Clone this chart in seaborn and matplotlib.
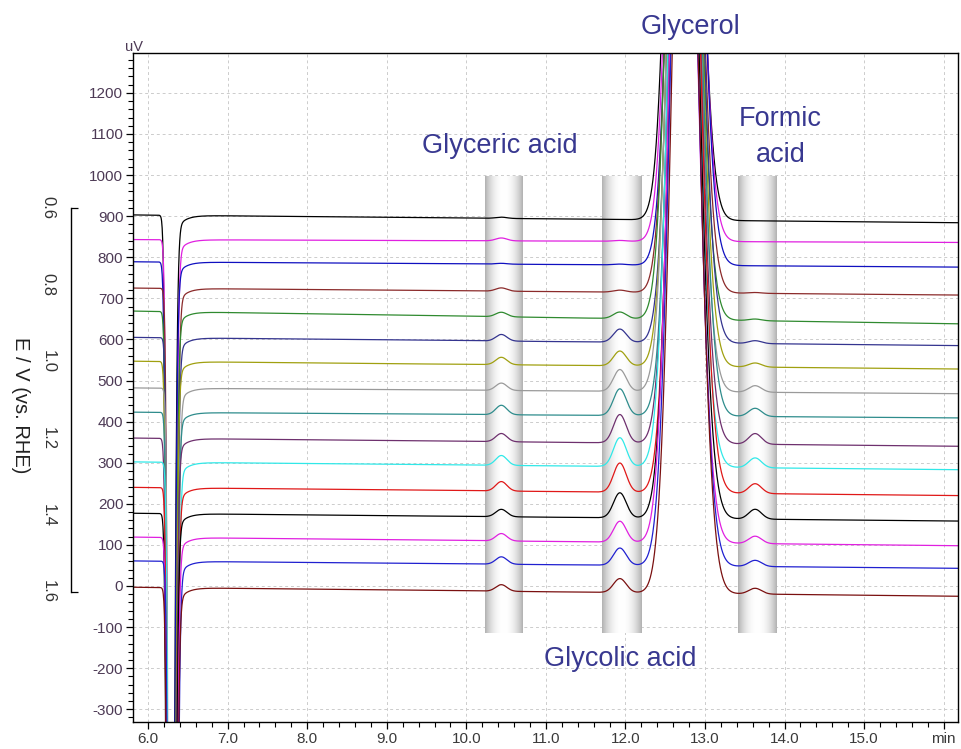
import numpy as np
import pandas as pd
import matplotlib
matplotlib.use("Agg")
import matplotlib.pyplot as plt
import seaborn as sns
from matplotlib.ticker import MultipleLocator, FixedLocator, FixedFormatter

# ---------------- data ----------------
traces = [f"trace {i + 1}" for i in range(16)]
colors = ["#000000", "#e020e0", "#1010c0", "#8b2a2a", "#2f8a2f", "#34348f",
          "#a0a010", "#9a9a9a", "#2e8c8c", "#6e306e", "#30e8e8", "#e01818",
          "#000000", "#e020e0", "#2020d0", "#7a1010"]
baseline_start = [903, 843, 789, 725, 669, 605, 547, 482, 423, 360, 302, 240, 177, 119, 61, -3]
baseline_end = [884, 836, 776, 708, 638, 585, 528, 468, 409, 340, 283, 220, 158, 98, 43, -25]
glyceric_height = [3, 7, 2, 8, 11, 16, 18, 18, 23, 20, 24, 23, 18, 18, 18, 16]
glycolic_height = [0, 2, 2, 5, 16, 32, 36, 53, 65, 69, 70, 71, 61, 51, 42, 34]
formic_height = [0, 0, 0, 2, 4, 7, 10, 16, 20, 26, 24, 24, 24, 18, 15, 14]
dip_rt = [6.27, 6.28, 6.27, 6.29, 6.28, 6.29, 6.28, 6.30, 6.29, 6.28, 6.30, 6.29, 6.28, 6.29, 6.30, 6.29]
glycerol_rt = [12.72, 12.73, 12.74, 12.73, 12.72, 12.74, 12.73, 12.72, 12.74, 12.73, 12.72, 12.74, 12.73, 12.72, 12.73, 12.74]

# peak shape parameters (min)
glyceric_rt, glycolic_rt, formic_rt = 10.44, 11.93, 13.63
glyceric_sigma, glycolic_sigma, formic_sigma = 0.07, 0.08, 0.08
glycerol_height, glycerol_sl, glycerol_sr = 2200, 0.15, 0.17
dip_depth, dip_sl, dip_sr, dip_tail, dip_tau = 4000, 0.03, 0.042, 80, 0.10

bands = [(10.24, 10.71), (11.70, 12.20), (13.41, 13.89)]
band_y = (-114, 998)

x_ticks = [6, 7, 8, 9, 10, 11, 12, 13, 14, 15, 16]
x_labels = ["6.0", "7.0", "8.0", "9.0", "10.0", "11.0", "12.0", "13.0", "14.0", "15.0", "min"]
y_ticks = list(range(-300, 1201, 100))
e_ticks = [0.6, 0.8, 1.0, 1.2, 1.4, 1.6]

# ---------------- build chromatograms ----------------
t0, t1 = 5.81, 16.18
t = np.linspace(t0, t1, 3000)
rows = []
for i, name in enumerate(traces):
    base = baseline_start[i] + (baseline_end[i] - baseline_start[i]) * (t - t0) / (t1 - t0)
    s = base.copy()
    s += glyceric_height[i] * np.exp(-0.5 * ((t - glyceric_rt) / glyceric_sigma) ** 2)
    s += glycolic_height[i] * np.exp(-0.5 * ((t - glycolic_rt) / glycolic_sigma) ** 2)
    s += formic_height[i] * np.exp(-0.5 * ((t - formic_rt) / formic_sigma) ** 2)
    d = t - glycerol_rt[i]
    sg = np.where(d < 0, glycerol_sl, glycerol_sr)
    s += glycerol_height * np.exp(-0.5 * (d / sg) ** 2)
    d = t - dip_rt[i]
    sd = np.where(d < 0, dip_sl, dip_sr)
    s -= dip_depth * np.exp(-0.5 * (d / sd) ** 2)
    s -= np.where(d > 0, dip_tail * np.exp(-np.clip(d, 0, None) / dip_tau), 0)
    rows.append(pd.DataFrame({"t": t, "signal": s, "trace": name}))
df = pd.concat(rows, ignore_index=True)

# ---------------- figure ----------------
sns.set_theme(style="white")
plt.rcParams["font.family"] = ["Liberation Sans", "DejaVu Sans"]
plt.rcParams["axes.unicode_minus"] = False
tick_family = ["Liberation Sans Narrow", "Liberation Sans", "DejaVu Sans"]

fig = plt.figure(figsize=(9.62, 7.49), dpi=100)
ax = fig.add_axes([133 / 962, 1 - 722 / 749, 825 / 962, 669 / 749])
ax.set_axisbelow(True)

# shaded bands
grad_u = np.linspace(0, 1, 64)
g = 0.70 + 0.30 * (1 - np.abs(2 * grad_u - 1) ** 2.2)
grad = np.dstack([g, g, g]).reshape(1, 64, 3)
for (xa, xb) in bands:
    ax.imshow(grad, extent=(xa, xb, band_y[0], band_y[1]), aspect="auto",
              zorder=1, interpolation="bilinear")

sns.lineplot(data=df, x="t", y="signal", hue="trace", palette=colors,
             legend=False, estimator=None, sort=False, linewidth=0.9, ax=ax, zorder=2)

ax.set_xlim(t0, t1)
ax.set_ylim(-331, 1297)
ax.set_xlabel("")
ax.set_ylabel("")
ax.xaxis.set_major_locator(FixedLocator(x_ticks))
ax.xaxis.set_major_formatter(FixedFormatter(x_labels))
ax.xaxis.set_minor_locator(MultipleLocator(0.2))
ax.yaxis.set_major_locator(FixedLocator(y_ticks))
ax.yaxis.set_minor_locator(MultipleLocator(20))
ax.grid(True, which="major", color="#cccccc", linestyle=(0, (3, 3)), linewidth=0.7)
for sp in ax.spines.values():
    sp.set_visible(True)
    sp.set_color("black")
    sp.set_linewidth(1.0)
ax.tick_params(axis="both", which="major", direction="out", length=5, width=0.9,
               color="black", labelsize=11, pad=2, left=True, bottom=True)
ax.tick_params(axis="both", which="minor", direction="out", length=3.5, width=0.8,
               color="black", left=True, bottom=True)
for lab in ax.get_yticklabels():
    lab.set_family(tick_family)
    lab.set_color("#4d3a55")
for lab in ax.get_xticklabels():
    lab.set_family(tick_family)
    lab.set_color("#3a3a3a")

fig.text(134 / 962, 1 - 47 / 749, "uV", ha="center", va="center",
         fontsize=10.5, color="#4d3a55", family=tick_family)

# annotations
txt_color = "#383890"
fs = 19.5
ax.text(12.82, 1360, "Glycerol", ha="center", va="center", fontsize=fs,
        color=txt_color, clip_on=False)
ax.text(10.42, 1071, "Glyceric acid", ha="center", va="center", fontsize=fs, color=txt_color)
ax.text(13.95, 1136, "Formic", ha="center", va="center", fontsize=fs, color=txt_color)
ax.text(13.95, 1049, "acid", ha="center", va="center", fontsize=fs, color=txt_color)
ax.text(11.94, -178, "Glycolic acid", ha="center", va="center", fontsize=fs, color=txt_color)

# potential scale (E / V vs. RHE)
ax2 = fig.add_axes([70.5 / 962, 1 - 592 / 749, 7 / 962, 384 / 749])
ax2.set_facecolor("none")
ax2.set_xlim(0, 1)
ax2.set_ylim(1.6, 0.6)
for k in ["top", "right", "bottom"]:
    ax2.spines[k].set_visible(False)
ax2.spines["left"].set_color("black")
ax2.spines["left"].set_linewidth(1.0)
ax2.set_xticks([])
ax2.yaxis.set_major_locator(FixedLocator(e_ticks))
ax2.yaxis.set_major_formatter(FixedFormatter([f"{v:.1f}" for v in e_ticks]))
ax2.yaxis.set_minor_locator(MultipleLocator(0.1))
ax2.tick_params(axis="y", which="major", direction="out", length=6, width=0.9,
                color="black", labelsize=12, pad=10)
ax2.tick_params(axis="y", which="minor", direction="out", length=3.5, width=0.8, color="black")
for lab in ax2.get_yticklabels():
    lab.set_rotation(-90)
    lab.set_va("center")
    lab.set_ha("center")
    lab.set_color("#333333")
ax2.hlines([e_ticks[0], e_ticks[-1]], 0, 1, colors="black", linewidth=0.9, clip_on=False)
ax2.grid(False)
fig.text(20 / 962, 1 - 405 / 749, "E / V (vs. RHE)", rotation=-90, ha="center",
         va="center", fontsize=14.5, color="#222222")

fig.savefig("out.png", dpi=100)
